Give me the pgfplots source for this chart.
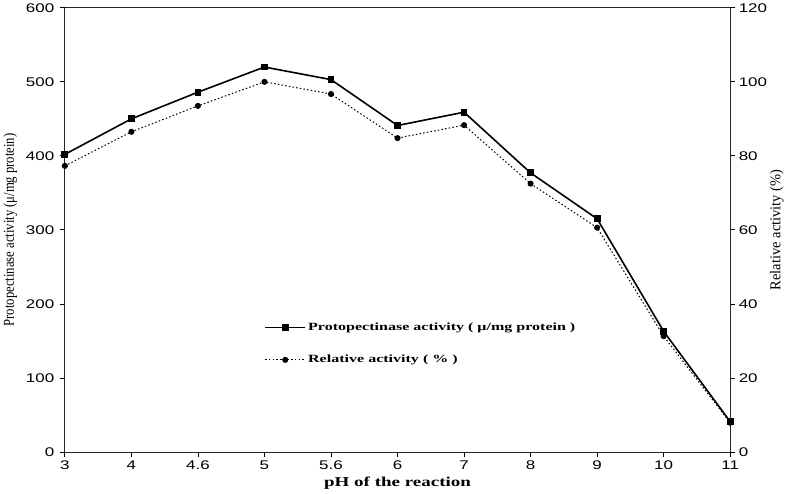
\documentclass[border=0pt]{standalone}
\usepackage{pgfplots}
\pgfplotsset{compat=1.18}
\usepackage{fontspec}
\setmainfont{Liberation Serif}
\newfontfamily\ticksans[FakeStretch=1.35]{Liberation Sans}
\newfontfamily\leftlabelfont[FakeStretch=0.84]{Liberation Serif}
\newfontfamily\rightlabelfont[FakeStretch=0.96]{Liberation Serif}
\newfontfamily\widebold[FakeStretch=1.45]{Liberation Serif Bold}
\newfontfamily\widerbold[FakeStretch=1.4]{Liberation Serif Bold}

\pgfplotstableread{
idx ph act
0 3   402
1 4   450
2 4.6 486
3 5   520
4 5.6 503
5 6   441
6 7   459
7 8   377
8 9   315
9 10  163
10 11 41
}\activity

\pgfplotstableread{
idx ph rel
0 3   77.3
1 4   86.5
2 4.6 93.5
3 5   100
4 5.6 96.7
5 6   84.8
6 7   88.3
7 8   72.5
8 9   60.6
9 10  31.3
10 11 7.9
}\relative

\begin{document}
\begin{tikzpicture}
\pgfplotsset{
  common/.style={
    scale only axis, width=662pt, height=442pt,
    at={(0pt,0pt)}, anchor=south west,
    xmin=0, xmax=10,
    tick align=outside, major tick length=5pt,
    every tick/.style={black, line width=0.8pt},
    axis line style={line width=1pt, black!85},
    ticklabel style={font=\ticksans\fontsize{12.5}{12.5}\selectfont},
    /pgf/number format/assume math mode=true,
  },
  longline/.style={
    legend image code/.code={
      \draw[##1, mark repeat=2, mark phase=2]
        plot coordinates {(0pt,0pt) (20pt,0pt) (40pt,0pt)};
    },
  },
}
\begin{axis}[common,
  ymin=0, ymax=600, ytick={0,100,...,600},
  xtick={0,...,10},
  xticklabels={3,4,4.6,5,5.6,6,7,8,9,10,11},
  axis x line*=bottom, axis y line*=left,
  yticklabel style={xshift=-2pt},
  xlabel={\widerbold\fontsize{13.5}{13.5}\selectfont pH of the reaction},
  xlabel style={yshift=-1pt},
  ylabel={\leftlabelfont\fontsize{15}{15}\selectfont Protopectinase activity (μ/mg protein)},
  ylabel style={yshift=2pt},
]
\addplot[black, line width=1.6pt, mark=square*, mark size=2.6pt]
  table[x=idx, y=act] {\activity};
\draw[black!85, line width=0.8pt] (rel axis cs:0,1) -- (rel axis cs:1,1);
\end{axis}
\begin{axis}[common,
  ymin=0, ymax=120, ytick={0,20,...,120},
  axis y line*=right, axis x line=none,
  ylabel={\rightlabelfont\fontsize{15}{15}\selectfont Relative activity (\%)},
  ylabel style={yshift=4pt},
  legend style={draw=none, fill=none, at={(0.295,0.30)}, anchor=north west,
    font=\widebold\fontsize{11}{11}\selectfont, row sep=19pt,
    /tikz/every even column/.append style={column sep=0pt}},
  legend cell align=left,
]
\addlegendimage{longline, black, line width=1.6pt, mark=square*, mark size=2.6pt}
\addlegendentry{Protopectinase activity ( μ/mg protein )}
\addplot[longline, black, line width=1pt, dash pattern=on 1.5pt off 2.2pt, mark=*, mark size=2.5pt, mark options={solid}]
  table[x=idx, y=rel] {\relative};
\addlegendentry{Relative activity ( \% )}
\end{axis}
\end{tikzpicture}
\end{document}
